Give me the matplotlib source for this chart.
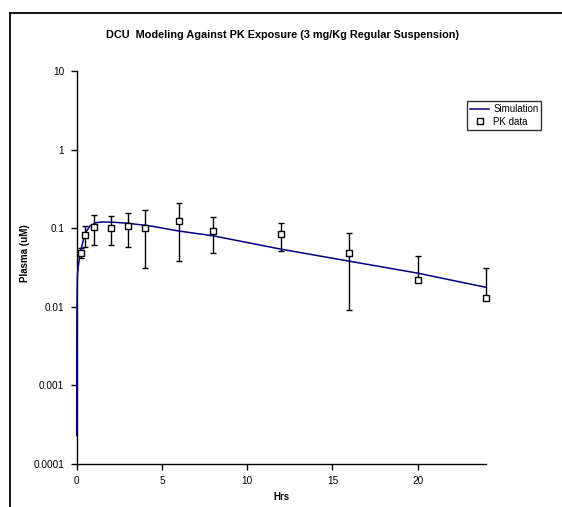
import matplotlib
matplotlib.use("Agg")
import matplotlib.pyplot as plt
from matplotlib.lines import Line2D
import numpy as np

plt.rcParams['font.family'] = ['Liberation Sans', 'DejaVu Sans']

# Simulation curve
sim_t = [0, 0.01, 0.02, 0.04, 0.08, 0.15, 0.29, 0.49, 0.78, 1.17, 1.57, 2.15,
         2.93, 4.3, 6, 8, 12, 16, 20, 24]
sim_c = [0.00023, 0.006, 0.012, 0.024, 0.031, 0.040, 0.058, 0.086, 0.107, 0.118,
         0.120, 0.119, 0.116, 0.107, 0.092, 0.080, 0.054, 0.038, 0.0268, 0.0177]

# PK data with SD
pk_t = [0.25, 0.5, 1, 2, 3, 4, 6, 8, 12, 16, 20, 24]
pk_mean = [0.049, 0.082, 0.104, 0.102, 0.108, 0.101, 0.123, 0.093, 0.085, 0.048, 0.022, 0.0131]
pk_sd = [0.007, 0.024, 0.043, 0.040, 0.050, 0.070, 0.085, 0.045, 0.033, 0.039, 0.022, 0.018]

title = "DCU  Modeling Against PK Exposure (3 mg/Kg Regular Suspension)"
xlabel = "Hrs"
ylabel = "Plasma (uM)"
yticks = [0.0001, 0.001, 0.01, 0.1, 1, 10]
ytick_labels = ["0.0001", "0.001", "0.01", "0.1", "1", "10"]
xticks = [0, 5, 10, 15, 20]

W, H = 562, 507
fig = plt.figure(figsize=(W / 100, H / 100), dpi=100)
ax = fig.add_axes([76.7 / W, 1 - 464 / H, (485.9 - 76.7) / W, (464 - 71) / H])

ax.plot(sim_t, sim_c, color='#000080', lw=1.1, label='Simulation', zorder=5, clip_on=False)

mean = np.array(pk_mean)
sd = np.array(pk_sd)
lower = np.where(mean - sd > 0, sd, 0)
eb = ax.errorbar(pk_t, pk_mean, yerr=[lower, sd], fmt='none', ecolor='black',
                 elinewidth=1, capsize=2.3, capthick=1, zorder=4)
for art in eb.lines[1] + eb.lines[2]:
    art.set_clip_on(False)
ax.plot(pk_t, pk_mean, ls='none', marker='s', ms=3.8, mfc='white', mec='black',
        mew=1, label='PK data', zorder=6, clip_on=False)

ax.set_yscale('log')
ax.set_ylim(0.0001, 10)
ax.set_xlim(0, 24)
ax.set_yticks(yticks)
ax.set_yticklabels(ytick_labels)
ax.set_xticks(xticks)
ax.minorticks_off()
ax.yaxis.set_minor_locator(matplotlib.ticker.NullLocator())
ax.tick_params(axis='both', labelsize=7.2, length=4, width=1, direction='out', color='black', pad=5)
for s in ['top', 'right']:
    ax.spines[s].set_visible(False)
for s in ['left', 'bottom']:
    ax.spines[s].set_linewidth(1)
    ax.spines[s].set_color('black')
    ax.spines[s].set_zorder(3)

fig.text(283 / W, 1 - 35 / H, title, ha='center', va='center', fontsize=7.8, fontweight='bold')
fig.text(281 / W, 1 - 497 / H, xlabel, ha='center', va='center', fontsize=7, fontweight='bold')
fig.text(25 / W, 1 - 253 / H, ylabel, ha='center', va='center', rotation=90, fontsize=7, fontweight='bold')

leg = ax.legend(loc='upper left', bbox_to_anchor=((467 - 76.7) / (485.9 - 76.7), 1 - (101 - 71) / (464 - 71)),
                bbox_transform=ax.transAxes, fontsize=7, frameon=True, fancybox=False,
                borderpad=0.3, handlelength=2.0, handletextpad=0.4, labelspacing=0.3,
                borderaxespad=0)
leg.get_frame().set_edgecolor('black')
leg.get_frame().set_linewidth(1)
leg.set_zorder(10)

# outer chart border
fig.add_artist(Line2D([10 / W, 1], [1 - 13 / H, 1 - 13 / H], color='black', lw=1.3, transform=fig.transFigure))
fig.add_artist(Line2D([10 / W, 10 / W], [0, 1 - 13 / H], color='black', lw=1.3, transform=fig.transFigure))

fig.savefig('out.png', dpi=100)
